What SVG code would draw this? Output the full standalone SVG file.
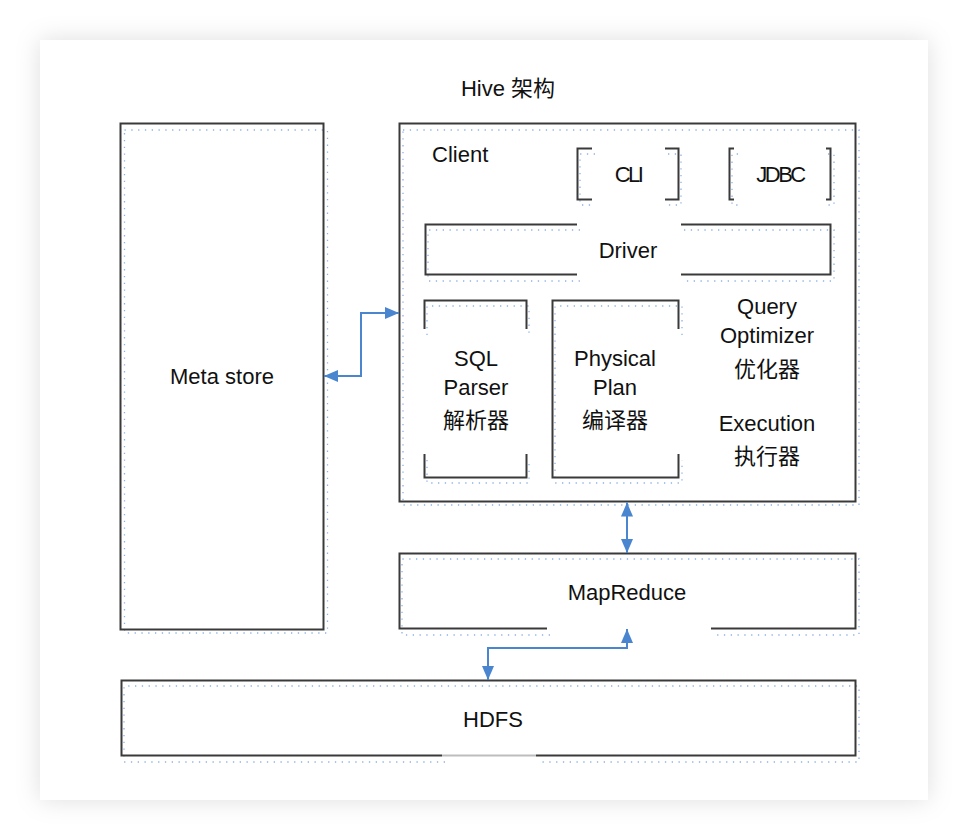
<svg xmlns="http://www.w3.org/2000/svg" width="968" height="840" viewBox="0 0 968 840">
<defs>
<filter id="sh" x="-10%" y="-10%" width="120%" height="120%">
<feDropShadow dx="0" dy="0" stdDeviation="12" flood-color="#000" flood-opacity="0.13"/>
</filter>
<marker id="ah" viewBox="0 0 14 12" refX="14" refY="6" markerWidth="14" markerHeight="12" markerUnits="userSpaceOnUse" orient="auto-start-reverse">
<path d="M0,0 L14,6 L0,12 z" fill="#4a86cf"/>
</marker>
<style>
.ln{fill:none;stroke:#3a3a3a;stroke-width:2}
.dt{fill:none;stroke:#8db2e6;stroke-width:1.3;stroke-dasharray:1.3 5.5}
.t{font-family:"Liberation Sans","Noto Sans CJK SC",Arial,sans-serif;font-size:22px;fill:#111;text-anchor:middle}
.conn{fill:none;stroke:#4a86cf;stroke-width:2;marker-start:url(#ah);marker-end:url(#ah)}
</style>
</defs>
<rect width="968" height="840" fill="#ffffff"/>
<rect x="40" y="40" width="888" height="760" fill="#ffffff" filter="url(#sh)"/>
<text class="t" x="508" y="96">Hive 架构</text>

<g id="metastore">
<rect class="dt" x="124.5" y="130" width="203" height="503"/>
<rect class="ln" x="120.5" y="123.5" width="203" height="506"/>
<text class="t" x="222" y="384">Meta store</text>
</g>

<g id="client">
<rect class="dt" x="403" y="130" width="456" height="375"/>
<rect class="ln" x="399.5" y="123.5" width="456" height="378"/>
<text class="t" x="432" y="162" style="text-anchor:start">Client</text>
</g>

<g id="cli">
<path class="dt" transform="translate(3,6)" d="M592 148 H577 V199 H592 M665 148 H678 V199 H665"/>
<path class="ln" d="M592 148.5 H577.5 V199.5 H592 M665 148.5 H678.5 V199.5 H665"/>
<text class="t" x="628" y="182" letter-spacing="-2.5">CLI</text>
</g>

<g id="jdbc">
<path class="dt" transform="translate(3,6)" d="M735 148 H729 V199 H735 M825 148 H831 V199 H825"/>
<path class="ln" d="M734 148.5 H729.5 V199.5 H734 M826 148.5 H830.5 V199.5 H826"/>
<text class="t" x="780" y="182" letter-spacing="-2.5">JDBC</text>
</g>

<g id="driver">
<path class="dt" transform="translate(3,6)" d="M577 224 H425 V275 H577 M681 224 H831 V275 H681"/>
<path class="ln" d="M577 224.5 H425.5 V274.5 H577 M681 224.5 H830.5 V274.5 H681"/>
<text class="t" x="628" y="258">Driver</text>
</g>

<g id="sqlparser">
<path class="dt" transform="translate(3,6)" d="M424 329 V300 H526 V329 M424 454 V477 H526 V454"/>
<path class="ln" d="M424.5 329 V300.5 H526.5 V329 M424.5 454 V477.5 H526.5 V454"/>
<text class="t" x="476" y="366">SQL</text>
<text class="t" x="476" y="395">Parser</text>
<text class="t" x="476" y="428">解析器</text>
</g>

<g id="physicalplan">
<path class="dt" transform="translate(3,6)" d="M679 329 V300 H552 V477 H679 V454"/>
<path class="ln" d="M678.5 329 V300.5 H552.5 V477.5 H678.5 V454"/>
<text class="t" x="615" y="366">Physical</text>
<text class="t" x="615" y="395">Plan</text>
<text class="t" x="615" y="428">编译器</text>
</g>

<g id="optimizer">
<text class="t" x="767" y="314">Query</text>
<text class="t" x="767" y="343">Optimizer</text>
<text class="t" x="767" y="377">优化器</text>
</g>

<g id="execution">
<text class="t" x="767" y="431">Execution</text>
<text class="t" x="767" y="464">执行器</text>
</g>

<g id="mapreduce">
<path class="dt" transform="translate(3,6)" d="M547 629 H399 V553 H856 V629 H711"/>
<path class="ln" d="M547 628.5 H399.5 V553.5 H855.5 V628.5 H711"/>
<text class="t" x="627" y="600">MapReduce</text>
</g>

<g id="hdfs">
<path class="dt" transform="translate(3,6)" d="M442 756 H121 V680 H856 V756 H536"/>
<path d="M442 755.5 H536" stroke="#bdbdbd" stroke-width="2" fill="none"/>
<path class="ln" d="M442 755.5 H121.5 V680.5 H855.5 V755.5 H536"/>
<text class="t" x="493" y="727">HDFS</text>
</g>

<g id="connectors">
<path class="conn" d="M324 376 H361 V313 H399"/>
<path class="conn" d="M627 502.5 V553"/>
<path class="conn" d="M627 629 V648 H488 V680"/>
</g>
</svg>
